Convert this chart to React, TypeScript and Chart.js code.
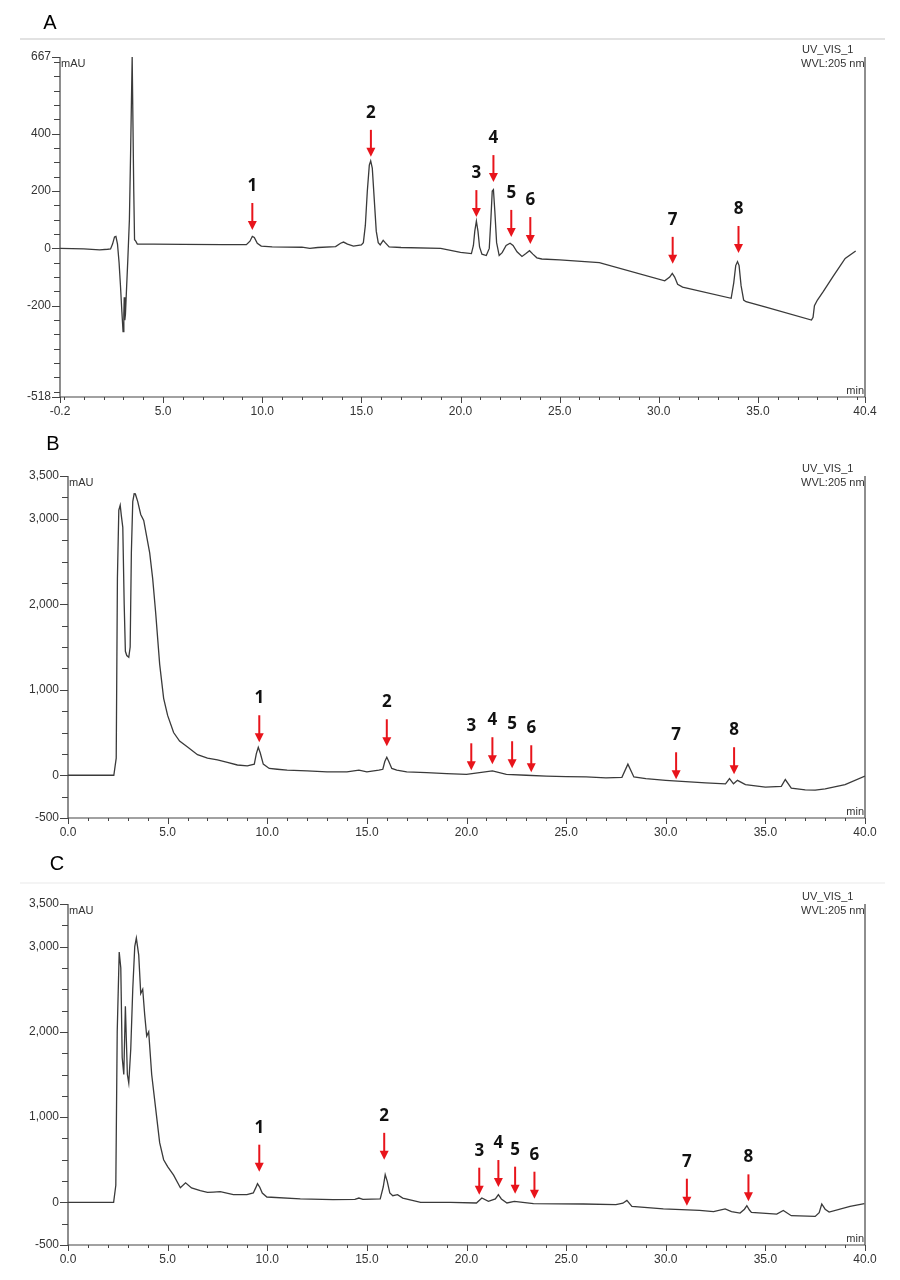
import React, { useEffect, useRef } from "react";
import { Chart, registerables } from "chart.js";

Chart.register(...registerables);

// ---------------- DATA ----------------
const timeA = [-0.2, 1.0, 1.8, 2.2, 2.35, 2.45, 2.55, 2.62, 2.7, 2.78, 2.85, 2.92, 2.98, 3.02, 3.04, 3.07, 3.1, 3.15, 3.22, 3.3, 3.36, 3.4, 3.44, 3.48, 3.52, 3.56, 3.62, 3.7, 4.5, 6, 8, 9.2, 9.38, 9.5, 9.6, 9.75, 9.95, 10.5, 12, 12.4, 12.8, 13.7, 13.95, 14.1, 14.3, 14.6, 15.0, 15.1, 15.2, 15.3, 15.4, 15.47, 15.55, 15.65, 15.75, 15.85, 15.95, 16.1, 16.2, 16.4, 17, 19, 20.0, 20.55, 20.65, 20.72, 20.8, 20.88, 20.96, 21.08, 21.3, 21.45, 21.53, 21.6, 21.66, 21.73, 21.82, 21.95, 22.1, 22.3, 22.5, 22.65, 22.85, 23.1, 23.3, 23.48, 23.65, 23.85, 24.1, 25, 27.0, 30.3, 30.55, 30.68, 30.8, 30.95, 31.2, 33.65, 33.78, 33.88, 33.97, 34.05, 34.15, 34.28, 34.4, 35.4, 37.7, 37.78, 37.85, 38.0, 38.3, 38.8, 39.4, 39.93];
const signalA = [0, -2, -5, -3, -2, 15, 40, 42, 15, -50, -130, -220, -290, -230, -170, -250, -230, -150, -40, 100, 330, 500, 667, 667, 200, 30, 25, 15, 15, 14, 13, 13, 25, 42, 38, 18, 8, 5, 4, 0, 3, 6, 18, 22, 15, 8, 12, 20, 80, 200, 290, 305, 280, 170, 60, 20, 12, 28, 20, 5, 3, 0, -14, -18, 10, 60, 95, 60, 5, -20, -25, 0, 100, 200, 205, 130, 20, -25, -15, 10, 18, 10, -12, -28, -18, -8, -20, -33, -37, -40, -50, -113, -100, -87, -100, -125, -135, -174, -120, -60, -46, -60, -130, -180, -186, -205, -250, -240, -200, -180, -150, -97, -35, -9];

const timeB = [0, 2.3, 2.42, 2.48, 2.55, 2.62, 2.68, 2.75, 2.82, 2.88, 2.95, 3.05, 3.12, 3.18, 3.25, 3.32, 3.38, 3.5, 3.65, 3.8, 3.95, 4.1, 4.25, 4.4, 4.6, 4.8, 5.0, 5.3, 5.6, 6.0, 6.5, 7.0, 7.5, 8.0, 8.5, 9.0, 9.35, 9.45, 9.55, 9.65, 9.8, 10.1, 10.5, 11, 12, 13, 14, 14.6, 15, 15.6, 15.8, 15.9, 16.0, 16.1, 16.25, 16.5, 17, 18, 19, 20, 21.3, 22, 23, 24, 25, 26, 27, 27.8, 28.1, 28.4, 29, 30, 31, 32, 33, 33.2, 33.4, 33.6, 34, 35, 35.8, 36.0, 36.3, 37, 37.5, 38, 39, 40];
const signalB = [0, 0, 200, 2300, 3100, 3158, 3030, 2900, 2000, 1450, 1400, 1380, 1500, 2600, 3200, 3292, 3290, 3200, 3050, 2980, 2790, 2600, 2300, 1900, 1300, 900, 700, 500, 400, 330, 240, 200, 180, 150, 120, 110, 130, 250, 327, 260, 130, 80, 70, 60, 50, 40, 40, 60, 40, 60, 70, 160, 210, 160, 80, 60, 40, 30, 20, 10, 50, 10, 0, -10, -15, -20, -30, -25, 130, -20, -40, -60, -75, -90, -100, -40, -100, -60, -110, -140, -130, -50, -150, -170, -175, -160, -110, -10];

const timeC = [0, 2.29, 2.4, 2.47, 2.57, 2.65, 2.72, 2.8, 2.88, 2.93, 2.98, 3.05, 3.15, 3.25, 3.35, 3.43, 3.55, 3.65, 3.75, 3.85, 3.95, 4.05, 4.2, 4.4, 4.6, 4.8, 5.0, 5.3, 5.64, 5.9, 6.2, 6.64, 7.0, 7.3, 7.64, 8.3, 8.98, 9.3, 9.42, 9.51, 9.62, 9.75, 9.98, 11.66, 13.3, 14.4, 14.6, 14.8, 15.67, 15.82, 15.92, 16.02, 16.15, 16.3, 16.54, 16.8, 17.7, 19.2, 20.5, 20.77, 21.1, 21.45, 21.6, 21.75, 22.03, 22.4, 23.36, 25.87, 27.5, 27.85, 28.05, 28.3, 29.88, 31.7, 32.4, 32.98, 33.3, 33.73, 33.95, 34.07, 34.2, 34.3, 35.57, 35.9, 36.3, 37.5, 37.7, 37.83, 38.0, 38.2, 39.25, 39.97];
const signalC = [0, 0, 200, 2000, 2937, 2750, 1700, 1500, 2300, 1900, 1500, 1400, 1800, 2500, 3000, 3100, 2900, 2450, 2500, 2200, 1950, 2000, 1500, 1100, 700, 500, 420, 320, 172, 230, 170, 137, 117, 120, 125, 90, 90, 110, 170, 219, 180, 110, 63, 40, 32, 35, 51, 35, 40, 180, 325, 250, 110, 78, 90, 51, 0, 0, -7, 51, 12, 40, 90, 40, -7, 12, -15, -19, -27, -10, 23, -47, -77, -94, -109, -77, -109, -125, -80, -39, -90, -117, -137, -94, -156, -164, -120, -19, -80, -113, -47, -15];

const peakLabels = ["1", "2", "3", "4", "5", "6", "7", "8"];
const arrowTimeA = [9.5, 15.48, 20.8, 21.66, 22.56, 23.52, 30.7, 34.02];
const arrowTipA = [64, 319, 109, 231, 40, 15, -54, -16];
const arrowTimeB = [9.6, 16.0, 20.24, 21.3, 22.29, 23.25, 30.52, 33.43];
const arrowTipB = [386, 339, 58, 129, 82, 35, -47, 12];
const arrowTimeC = [9.6, 15.87, 20.64, 21.6, 22.44, 23.41, 31.06, 34.15];
const arrowTipC = [360, 499, 90, 180, 102, 43, -39, 12];

const yTicksA = [667, 400, 200, 0, -200, -518];
const yTickLabelsA = ["667", "400", "200", "0", "-200", "-518"];
const yTicksBC = [3500, 3000, 2000, 1000, 0, -500];
const yTickLabelsBC = ["3,500", "3,000", "2,000", "1,000", "0", "-500"];
const xTicksA = [-0.2, 5, 10, 15, 20, 25, 30, 35, 40.4];
const xTickLabelsA = ["-0.2", "5.0", "10.0", "15.0", "20.0", "25.0", "30.0", "35.0", "40.4"];
const xTicksBC = [0, 5, 10, 15, 20, 25, 30, 35, 40];
const xTickLabelsBC = ["0.0", "5.0", "10.0", "15.0", "20.0", "25.0", "30.0", "35.0", "40.0"];
const detectorText = ["UV_VIS_1", "WVL:205 nm"];
const yUnit = "mAU";
const xUnit = "min";
const panelNames = ["A", "B", "C"];

// ---------------- DRAWING ----------------
type PanelCfg = {
  name: string;
  time: number[];
  signal: number[];
  xMin: number; xMax: number; yMin: number; yMax: number;
  yTicks: number[]; yLabels: string[]; yMinor: number;
  xTicks: number[]; xLabels: string[];
  arrowT: number[]; arrowV: number[];
  top: number; height: number;
  pad: { left: number; right: number; top: number; bottom: number };
  letterPos: [number, number];
  ruleY: number | null;
  ruleColor: string;
};

const TICK_FONT = '12px "Liberation Sans", Arial, sans-serif';
const SMALL_FONT = '11px "Liberation Sans", Arial, sans-serif';
const TEXT_COLOR = "#333";

function makePlugin(cfg: PanelCfg) {
  return {
    id: "chromAxes" + cfg.name,
    afterDraw(chart: any) {
      const ctx = chart.ctx as CanvasRenderingContext2D;
      const xs = chart.scales.x;
      const ys = chart.scales.y;
      const a = chart.chartArea;
      ctx.save();
      if (cfg.ruleY !== null) {
        ctx.strokeStyle = cfg.ruleColor;
        ctx.lineWidth = 2;
        ctx.beginPath();
        ctx.moveTo(20, cfg.ruleY);
        ctx.lineTo(885, cfg.ruleY);
        ctx.stroke();
      }
      ctx.fillStyle = "#000";
      ctx.font = '20px "Liberation Sans", Arial, sans-serif';
      ctx.textAlign = "center";
      ctx.textBaseline = "middle";
      ctx.fillText(cfg.name, cfg.letterPos[0], cfg.letterPos[1]);

      ctx.strokeStyle = "#444";
      ctx.lineWidth = 1.2;
      ctx.beginPath();
      ctx.moveTo(a.left, a.top);
      ctx.lineTo(a.left, a.bottom);
      ctx.lineTo(a.right, a.bottom);
      ctx.moveTo(a.right, a.top);
      ctx.lineTo(a.right, a.bottom);
      ctx.stroke();

      ctx.lineWidth = 1;
      ctx.beginPath();
      const start = Math.ceil(cfg.yMin / cfg.yMinor) * cfg.yMinor;
      for (let v = start; v <= cfg.yMax; v += cfg.yMinor) {
        const py = Math.round(ys.getPixelForValue(v)) + 0.5;
        ctx.moveTo(a.left - 6, py);
        ctx.lineTo(a.left, py);
      }
      cfg.yTicks.forEach((v) => {
        const py = Math.round(ys.getPixelForValue(v)) + 0.5;
        ctx.moveTo(a.left - 8, py);
        ctx.lineTo(a.left, py);
      });
      for (let t = Math.ceil(cfg.xMin); t <= cfg.xMax; t += 1) {
        const px = Math.round(xs.getPixelForValue(t)) + 0.5;
        ctx.moveTo(px, a.bottom);
        ctx.lineTo(px, a.bottom + 3);
      }
      cfg.xTicks.forEach((t) => {
        const px = Math.round(xs.getPixelForValue(t)) + 0.5;
        ctx.moveTo(px, a.bottom);
        ctx.lineTo(px, a.bottom + 6);
      });
      ctx.stroke();

      ctx.fillStyle = TEXT_COLOR;
      ctx.font = TICK_FONT;
      ctx.textAlign = "right";
      ctx.textBaseline = "middle";
      cfg.yTicks.forEach((v, i) => {
        ctx.fillText(cfg.yLabels[i], a.left - 9, ys.getPixelForValue(v));
      });
      ctx.textAlign = "center";
      cfg.xTicks.forEach((t, i) => {
        ctx.fillText(cfg.xLabels[i], xs.getPixelForValue(t), a.bottom + 15);
      });

      ctx.font = SMALL_FONT;
      ctx.textAlign = "left";
      ctx.fillText(yUnit, a.left + 1, a.top + 7);
      ctx.textAlign = "right";
      ctx.textBaseline = "alphabetic";
      ctx.fillText(xUnit, a.right - 1, a.bottom - 3);
      ctx.textAlign = "left";
      ctx.textBaseline = "middle";
      ctx.fillText(detectorText[0], a.right - 63, a.top - 7);
      ctx.fillText(detectorText[1], a.right - 64, a.top + 7);

      cfg.arrowT.forEach((t, i) => {
        const px = xs.getPixelForValue(t);
        const tip = ys.getPixelForValue(cfg.arrowV[i]);
        ctx.strokeStyle = "#e8141b";
        ctx.fillStyle = "#e8141b";
        ctx.lineWidth = 2;
        ctx.beginPath();
        ctx.moveTo(px, tip - 27);
        ctx.lineTo(px, tip - 8);
        ctx.stroke();
        ctx.beginPath();
        ctx.moveTo(px - 4.5, tip - 9);
        ctx.lineTo(px + 4.5, tip - 9);
        ctx.lineTo(px, tip);
        ctx.closePath();
        ctx.fill();
        ctx.fillStyle = "#111";
        ctx.font = 'bold 17px "Noto Sans", "Open Sans", Arial, sans-serif';
        ctx.textAlign = "center";
        ctx.textBaseline = "middle";
        ctx.fillText(peakLabels[i], px, tip - 44);
      });
      ctx.restore();
    },
  };
}

const panels: PanelCfg[] = [
  {
    name: panelNames[0], time: timeA, signal: signalA,
    xMin: -0.2, xMax: 40.4, yMin: -518, yMax: 667,
    yTicks: yTicksA, yLabels: yTickLabelsA, yMinor: 50,
    xTicks: xTicksA, xLabels: xTickLabelsA,
    arrowT: arrowTimeA, arrowV: arrowTipA,
    top: 0, height: 430,
    pad: { left: 60, right: 35, top: 57, bottom: 33 },
    letterPos: [50, 23], ruleY: 39, ruleColor: "#e2e2e2",
  },
  {
    name: panelNames[1], time: timeB, signal: signalB,
    xMin: 0, xMax: 40, yMin: -500, yMax: 3500,
    yTicks: yTicksBC, yLabels: yTickLabelsBC, yMinor: 250,
    xTicks: xTicksBC, xLabels: xTickLabelsBC,
    arrowT: arrowTimeB, arrowV: arrowTipB,
    top: 430, height: 420,
    pad: { left: 68, right: 35, top: 46, bottom: 32 },
    letterPos: [53, 14], ruleY: null, ruleColor: "#fff",
  },
  {
    name: panelNames[2], time: timeC, signal: signalC,
    xMin: 0, xMax: 40, yMin: -500, yMax: 3500,
    yTicks: yTicksBC, yLabels: yTickLabelsBC, yMinor: 250,
    xTicks: xTicksBC, xLabels: xTickLabelsBC,
    arrowT: arrowTimeC, arrowV: arrowTipC,
    top: 850, height: 430,
    pad: { left: 68, right: 35, top: 54, bottom: 35 },
    letterPos: [57, 14], ruleY: 33, ruleColor: "#f4f4f4",
  },
];

function Panel({ cfg }: { cfg: PanelCfg }) {
  const ref = useRef<HTMLCanvasElement | null>(null);
  useEffect(() => {
    if (!ref.current) return;
    const chart = new Chart(ref.current, {
      type: "line",
      data: {
        datasets: [
          {
            data: cfg.time.map((t, i) => ({ x: t, y: cfg.signal[i] })),
            borderColor: "#3a3a3a",
            borderWidth: 1.3,
            pointRadius: 0,
            tension: 0,
            fill: false,
          },
        ],
      },
      options: {
        animation: false,
        responsive: false,
        maintainAspectRatio: false,
        devicePixelRatio: 1,
        layout: { padding: cfg.pad },
        scales: {
          x: { type: "linear", min: cfg.xMin, max: cfg.xMax, display: false },
          y: { type: "linear", min: cfg.yMin, max: cfg.yMax, display: false },
        },
        plugins: { legend: { display: false }, tooltip: { enabled: false } },
      },
      plugins: [makePlugin(cfg)],
    } as any);
    return () => chart.destroy();
  }, [cfg]);
  return (
    <canvas
      ref={ref}
      width={900}
      height={cfg.height}
      style={{ position: "absolute", left: 0, top: cfg.top, width: 900, height: cfg.height }}
    />
  );
}

export default function App() {
  return (
    <div style={{ position: "absolute", left: 0, top: 0, width: 900, height: 1280, background: "#fff" }}>
      {panels.map((p) => (
        <Panel key={p.name} cfg={p} />
      ))}
    </div>
  );
}
